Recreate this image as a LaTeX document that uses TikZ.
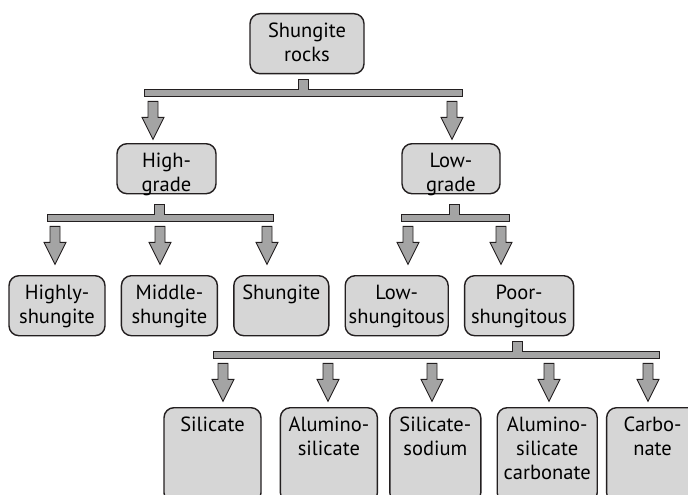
\documentclass[tikz,border=0pt]{standalone}
\usepackage{fontspec}
\setmainfont{PT Sans}
\usepackage{tikz}
\usetikzlibrary{positioning,calc}
\definecolor{boxgray}{HTML}{D6D6D6}
\definecolor{arrowgray}{HTML}{A4A4A4}
\definecolor{ink}{HTML}{231F20}
\newcommand{\rows}[1]{\begin{tabular}[t]{@{}c@{}}#1\end{tabular}}
\newcommand{\splitbar}[6]{%
  \filldraw[bar] let \p1=([xshift=#2pt,yshift=-#3pt]#1.south) in
    (\x1-5pt,\y1) -- (\x1+5pt,\y1) -- (\x1+5pt,\y1-10pt) -- (#5pt,\y1-10pt)
    -- (#5pt,\y1-17pt) -- (#4pt,\y1-17pt) -- (#4pt,\y1-10pt) -- (\x1-5pt,\y1-10pt) -- cycle
    (\x1,\y1-17pt) coordinate (#6);}
\newcommand{\fatarrow}[2]{%
  \filldraw[fat] let \p1=(#1) in
    (#2pt-5pt,\y1-5pt) -- (#2pt+5pt,\y1-5pt) -- (#2pt+5pt,\y1-21pt) -- (#2pt+11pt,\y1-21pt)
    -- (#2pt,\y1-43pt) -- (#2pt-11pt,\y1-21pt) -- (#2pt-5pt,\y1-21pt) -- cycle;}
\begin{document}
\begin{tikzpicture}[
  x=1pt,y=-1pt,
  font=\fontsize{20.5}{24}\selectfont,
  line join=miter,
  rock/.style={draw=ink,line width=1.4pt,fill=boxgray,rounded corners=10pt,
               anchor=north,inner xsep=2pt,inner ysep=9pt,
               text height=14.5pt,text depth=27.5pt},
  bar/.style={draw=ink,line width=.9pt,fill=arrowgray},
  fat/.style={draw=ink,line width=.9pt,fill=arrowgray}
]
\useasboundingbox (0,0) rectangle (688,495);
\clip (0,0) rectangle (688,495);
\node[rock,minimum width=114pt] (rocks) at (307,13) {\rows{Shungite\\rocks}};
\node[rock,minimum width=99pt,text depth=17.5pt] (high) at (166.5,143) {\rows{High-\\grade}};
\node[rock,minimum width=98pt,text depth=17.5pt] (low) at (451,143) {\rows{Low-\\grade}};
\node[rock,minimum width=96pt] (highly) at (57,275) {\rows{Highly-\\shungite}};
\node[rock,minimum width=96pt,right=15pt of highly] (middle) {\rows{Middle-\\shungite}};
\node[rock,minimum width=95pt,right=15pt of middle] (shungite) {Shungite};
\node[rock,minimum width=103pt,right=15pt of shungite] (lowsh) {\rows{Low-\\shungitous}};
\node[rock,minimum width=109pt,right=15pt of lowsh] (poor) {\rows{Poor-\\shungitous}};
\node[rock,minimum width=97pt,text depth=62.5pt] (silicate) at (212.5,407) {Silicate};
\node[rock,minimum width=97pt,text depth=62.5pt,right=18pt of silicate] (alumino) {\rows{Alumino-\\silicate}};
\node[rock,minimum width=91pt,text depth=62.5pt,right=11pt of alumino] (sodium) {\rows{Silicate-\\sodium}};
\node[rock,minimum width=100pt,text depth=62.5pt,right=15pt of sodium] (alucarb) {\rows{Alumino-\\silicate\\carbonate}};
\node[rock,minimum width=92pt,text depth=62.5pt,right=8pt of alucarb] (carbonate) {\rows{Carbo-\\nate}};
\splitbar{rocks}{-4}{5}{144}{462}{rocksbar}
\splitbar{high}{-7}{10}{47}{273}{highbar}
\splitbar{low}{3.5}{10}{401}{509}{lowbar}
\splitbar{poor}{-1.5}{5}{213}{659}{poorbar}
\foreach \xa in {153,452} {\fatarrow{rocksbar}{\xa}}
\foreach \xa in {55,160,267} {\fatarrow{highbar}{\xa}}
\foreach \xa in {408,501} {\fatarrow{lowbar}{\xa}}
\foreach \xa in {223,328,432,549,648} {\fatarrow{poorbar}{\xa}}
\end{tikzpicture}
\end{document}
